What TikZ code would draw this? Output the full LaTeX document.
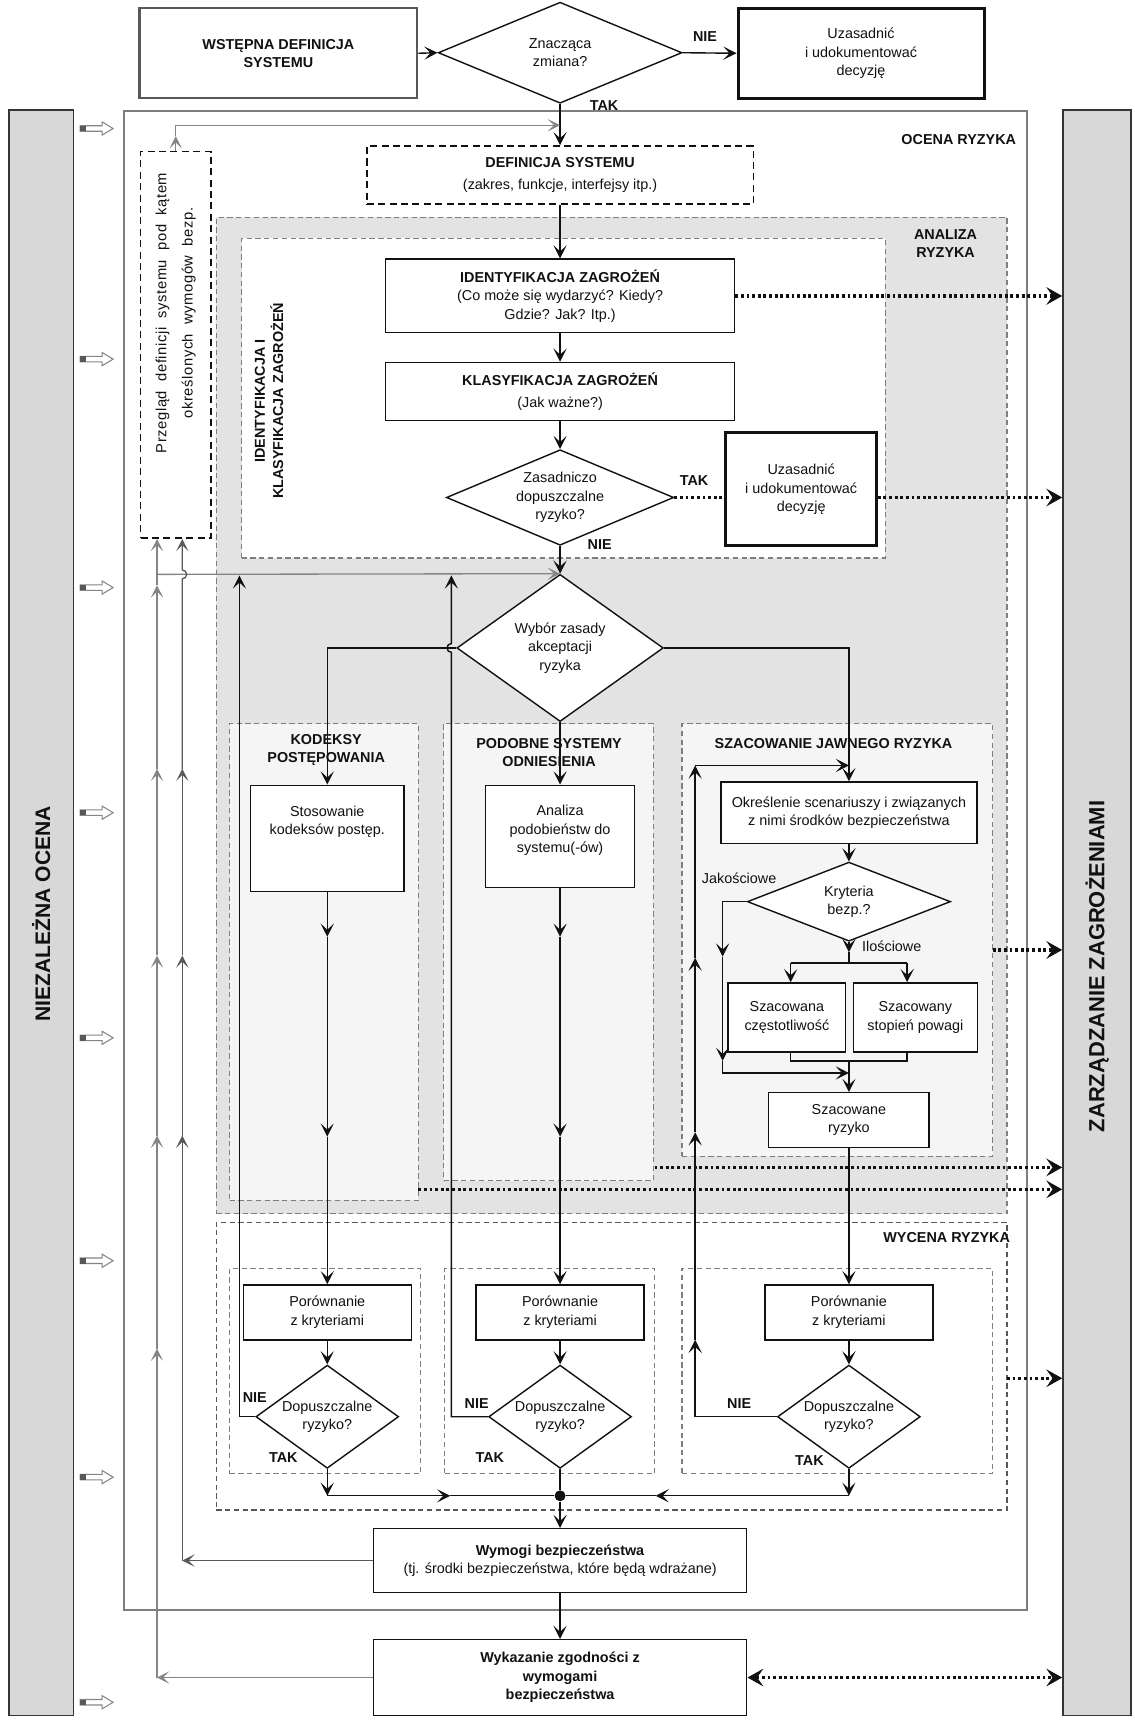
\documentclass[tikz,border=0pt]{standalone}
\usepackage{fontspec}
\setmainfont{Liberation Sans}
\newfontfamily\rozstrzelony{Liberation Sans}[LetterSpace=4,WordSpace=2]
\usepackage{tikz}
\usetikzlibrary{arrows.meta,calc,positioning,shapes.geometric}
\definecolor{tusz}{HTML}{111111}
\definecolor{szary}{HTML}{858585}
\definecolor{ramka}{HTML}{7E7E7E}
\definecolor{tlo}{HTML}{E3E3E3}
\definecolor{tlojasne}{HTML}{F5F5F5}
\definecolor{pasek}{HTML}{D8D8D8}
\tikzset{
  wym/.style 2 args={minimum width=#1*0.022cm,minimum height=#2*0.022cm},
  tekst/.style={font=\fontsize{8.2}{10.5}\selectfont,align=center,text=tusz},
  blok/.style={tekst,draw=tusz,fill=white,line width=0.8pt,inner sep=0pt},
  blokgr/.style={blok,line width=1.7pt},
  blokprz/.style={blok,dash pattern=on 4pt off 2.5pt,line width=0.9pt},
  romb/.style={tekst,diamond,draw=tusz,fill=white,line width=0.8pt,inner sep=0pt},
  obszar/.style={draw=ramka,dash pattern=on 3pt off 2pt,line width=0.7pt,inner sep=0pt},
  etykieta/.style={tekst,font=\fontsize{8.2}{10.5}\selectfont\bfseries,inner sep=1pt},
  napis/.style={tekst,inner sep=1pt},
  pasekboczny/.style={draw=tusz!85,fill=pasek,line width=1pt,inner sep=0pt},
  polaczenie/.style={draw=tusz,line width=0.8pt},
  strzalka/.style={polaczenie,-{Stealth[length=7.5pt,width=7.5pt,inset=3.5pt]}},
  szara/.style={draw=szary,line width=0.75pt,-{Stealth[length=7pt,width=7pt,inset=3.5pt]}},
  ciemna/.style={szara,draw=tusz!70},
  kropki/.style={draw=tusz,line width=1.8pt,dash pattern=on 1.6pt off 1.6pt},
  kropkistr/.style={kropki,-{Stealth[length=9pt,width=10pt,inset=3.5pt]}},
  kropkidwa/.style={kropki,{Stealth[length=9pt,width=10pt,inset=3.5pt]}-{Stealth[length=9pt,width=10pt,inset=3.5pt]}},
}
\begin{document}
\begin{tikzpicture}[x=0.022cm,y=-0.022cm]
\useasboundingbox (0,0) rectangle (1033,1568);
% paski boczne
\node[pasekboczny,wym={59}{1462}] (ocenaniez) at (37.5,831) {};
\node[pasekboczny,wym={62}{1462}] (zarzadzanie) at (999,831) {};
\node[etykieta,rotate=90,font=\fontsize{12}{14}\selectfont\bfseries] (opisniez) at (37.5,832) {NIEZALEŻNA OCENA};
\node[etykieta,rotate=90,font=\fontsize{12.5}{14}\selectfont\bfseries] (opiszarz) at (999,880) {ZARZĄDZANIE ZAGROŻENIAMI};
\foreach \yy in {117,327,535,740,945,1148,1345,1550}{
  \draw[draw=szary,fill=white,line width=0.6pt] (73,\yy-2.5) -- (93,\yy-2.5) -- (93,\yy-6) -- (103,\yy) -- (93,\yy+6) -- (93,\yy+2.5) -- (73,\yy+2.5) -- cycle;
  \fill[tusz!70] (73,\yy-2.5) rectangle (78,\yy+2.5);
}
% obszary
\node[draw=ramka,line width=0.8pt,inner sep=0pt,wym={822}{1365}] (ocena) at (524,783.5) {};
\node[obszar,fill=tlo,wym={720}{907}] (analiza) at (557,651.5) {};
\node[obszar,fill=white,wym={586}{291}] (identklas) at (513,362.5) {};
\node[obszar,fill=tlojasne,wym={172}{434}] (kodeksy) at (295,876) {};
\node[obszar,fill=tlojasne,wym={191}{416}] (podobne) at (499.5,867) {};
\node[obszar,fill=tlojasne,wym={283}{394}] (szac) at (762.5,856) {};
\node[obszar,fill=white,draw=tusz!70,wym={720}{262}] (wycena) at (557,1244) {};
\node[obszar,wym={174}{187}] (wyc1) at (296,1248.5) {};
\node[obszar,wym={191}{187}] (wyc2) at (500.5,1248.5) {};
\node[obszar,wym={283}{187}] (wyc3) at (762.5,1248.5) {};
\node[etykieta] (opisocena) at (873,127) {OCENA RYZYKA};
\node[etykieta] (opisanaliza) at (861,222) {ANALIZA\\RYZYKA};
\node[etykieta,rotate=90] (opisident) at (245,365) {IDENTYFIKACJA I\\KLASYFIKACJA ZAGROŻEŃ};
\node[etykieta] (opiskodeksy) at (297,683) {KODEKSY\\POSTĘPOWANIA};
\node[etykieta] (opispodobne) at (500,685) {PODOBNE SYSTEMY\\ODNIESIENIA};
\node[etykieta] (opisszac) at (759,677) {SZACOWANIE JAWNEGO RYZYKA};
\node[etykieta] (opiswycena) at (862,1127) {WYCENA RYZYKA};
% gora
\node[blok,draw=tusz!70,line width=1.2pt,wym={253}{82},font=\fontsize{8.2}{10.5}\selectfont\bfseries] (wstepna) at (253.5,48.5) {WSTĘPNA DEFINICJA\\SYSTEMU};
\node[romb,aspect=2.44,wym={222}{92}] (znaczaca) at (510,48) {Znacząca\\zmiana?};
\node[blokgr,wym={224}{82}] (uzasad1) at (784,48.5) {Uzasadnić\\i udokumentować\\decyzję};
\node[etykieta] (nie0) at (642,33) {NIE};
\node[etykieta] (tak0) at (550,96) {TAK};
\node[blokprz,wym={352}{53}] (definicja) at (510,159.5) {\textbf{DEFINICJA SYSTEMU}\\[2pt](zakres, funkcje, interfejsy itp.)};
\node[blokprz,wym={64}{352}] (przeglad) at (160,314) {};
\node[napis,rotate=90,font=\fontsize{8.4}{15}\rozstrzelony] (przegladtxt) at (160,285) {Przegląd definicji systemu pod kątem\\określonych wymogów bezp.};
% identyfikacja
\node[blok,wym={318}{67}] (identyf) at (510,269.5) {\textbf{IDENTYFIKACJA ZAGROŻEŃ}\\(Co może się wydarzyć? Kiedy?\\Gdzie? Jak? Itp.)};
\node[blok,wym={318}{53}] (klasyf) at (510,356.5) {\textbf{KLASYFIKACJA ZAGROŻEŃ}\\[2pt](Jak ważne?)};
\node[romb,aspect=2.38,wym={207}{87}] (zasad) at (510,453) {Zasadniczo\\dopuszczalne\\ryzyko?};
\node[blokgr,wym={137}{103}] (uzasad2) at (729.5,445.5) {Uzasadnić\\i udokumentować\\decyzję};
\node[etykieta] (tak1) at (632,438) {TAK};
\node[etykieta] (nie1) at (546,496) {NIE};
% wybor zasady
\node[romb,aspect=1.4,wym={188}{134}] (wybor) at (510,590) {Wybór zasady\\akceptacji\\ryzyka};
\node[blok,wym={140}{97}] (stosowanie) at (298,763.5) {Stosowanie\\kodeksów postęp.\\[10pt]\mbox{}};
\node[blok,wym={136}{93}] (analogia) at (510,761.5) {Analiza\\podobieństw do\\systemu(-ów)\\[-2pt]\mbox{}};
\node[blok,wym={233}{56}] (okreslenie) at (773,740) {Określenie scenariuszy i związanych\\z nimi środków bezpieczeństwa};
\node[romb,aspect=2.57,wym={185}{72}] (kryteria) at (773,821) {Kryteria\\bezp.?};
\node[napis] (jakosc) at (673,800) {Jakościowe};
\node[napis] (ilosc) at (812,862) {Ilościowe};
\node[blok,wym={107}{63}] (czestotl) at (716.5,926.5) {Szacowana\\częstotliwość};
\node[blok,wym={113}{63}] (powaga) at (833.5,926.5) {Szacowany\\stopień powagi};
\node[blok,wym={146}{50}] (szacryz) at (773,1020) {Szacowane\\ryzyko};
% wycena
\node[blok,wym={153}{50}] (por1) at (298,1195) {Porównanie\\z kryteriami};
\node[blok,wym={153}{50}] (por2) at (510,1195) {Porównanie\\z kryteriami};
\node[blok,wym={153}{50}] (por3) at (773,1195) {Porównanie\\z kryteriami};
\node[romb,aspect=1.38,wym={130}{94}] (dop1) at (298,1290) {Dopuszczalne\\ryzyko?};
\node[romb,aspect=1.38,wym={130}{94}] (dop2) at (510,1290) {Dopuszczalne\\ryzyko?};
\node[romb,aspect=1.38,wym={130}{94}] (dop3) at (773,1290) {Dopuszczalne\\ryzyko?};
\node[etykieta] (nie2) at (232,1273) {NIE};
\node[etykieta] (nie3) at (434,1278) {NIE};
\node[etykieta] (nie4) at (673,1278) {NIE};
\node[etykieta] (tak2) at (258,1327) {TAK};
\node[etykieta] (tak3) at (446,1327) {TAK};
\node[etykieta] (tak4) at (737,1330) {TAK};
\node[circle,fill=tusz,inner sep=0pt,minimum size=10*0.022cm] (wezel) at (510,1362) {};
\node[blok,wym={340}{58}] (wymogi) at (510,1421) {\textbf{Wymogi bezpieczeństwa}\\(tj. środki bezpieczeństwa, które będą wdrażane)};
\node[blok,wym={340}{69},font=\fontsize{8.2}{10.5}\selectfont\bfseries] (wykazanie) at (510,1527.5) {Wykazanie zgodności z\\wymogami\\bezpieczeństwa};
% polaczenia gorne
\draw[strzalka] (wstepna.east) -- (znaczaca.west);
\draw[strzalka] (znaczaca.east) -- (uzasad1.west);
\draw[strzalka] (znaczaca.south) -- (definicja.north);
\coordinate (petlaA) at (160,124);
\coordinate (petla) at (160,114);
\draw[szara] (przeglad.north) -- (petlaA);
\draw[szara] (petlaA) -- (petla) -- (petla -| znaczaca.south);
\draw[strzalka] (definicja.south) -- (identyf.north);
\draw[strzalka] (identyf.south) -- (klasyf.north);
\draw[strzalka] (klasyf.south) -- (zasad.north);
\draw[kropki] (zasad.east) -- (zasad.east -| uzasad2.west);
\draw[kropkistr] (uzasad2.east |- zasad.east) -- (zasad.east -| zarzadzanie.west);
\draw[kropkistr] (identyf.east) -- (identyf.east -| zarzadzanie.west);
\draw[strzalka] (zasad.south) -- (wybor.north);
% galezie
\draw[strzalka] (wybor.west) -| (stosowanie.north);
\draw[strzalka] (wybor.east) -| (okreslenie.north);
\draw[strzalka] (wybor.south) -- (analogia.north);
\coordinate (k1a) at (298,853);
\coordinate (k1b) at (298,1035);
\draw[strzalka] (stosowanie.south) -- (k1a);
\draw[strzalka] (k1a) -- (k1b);
\draw[strzalka] (k1b) -- (por1.north);
\coordinate (k2a) at (510,853);
\coordinate (k2b) at (510,1035);
\draw[strzalka] (analogia.south) -- (k2a);
\draw[strzalka] (k2a) -- (k2b);
\draw[strzalka] (k2b) -- (por2.north);
\draw[strzalka] (szacryz.south) -- (por3.north);
% szacowanie
\draw[strzalka] (okreslenie.south) -- (kryteria.north);
\coordinate (jakA) at (658,871);
\coordinate (jakB) at (658,966);
\coordinate (jakC) at (658,977);
\coordinate (zbiorS) at (773,977);
\draw[strzalka] (kryteria.west) -| (jakA);
\draw[strzalka] (jakA) -- (jakB);
\draw[strzalka] (jakB) -- (jakC) -- (zbiorS);
\coordinate (ilA) at (773,867);
\coordinate (ilB) at (773,877);
\coordinate (ilL) at (720,877);
\coordinate (ilP) at (826,877);
\draw[strzalka] (kryteria.south) -- (ilA);
\draw[polaczenie] (ilA) -- (ilB);
\draw[polaczenie] (ilL) -- (ilP);
\draw[strzalka] (ilL) -- (ilL |- czestotl.north);
\draw[strzalka] (ilP) -- (ilP |- powaga.north);
\coordinate (dolL) at (720,966);
\coordinate (dolP) at (826,966);
\coordinate (dolS) at (773,966);
\draw[polaczenie] (dolL |- czestotl.south) -- (dolL) -- (dolP) -- (dolP |- powaga.south);
\draw[strzalka] (dolS) -- (szacryz.north);
% petle NIE
\coordinate (n1) at (218,524);
\draw[strzalka] (dop1.west) -| (n1);
\coordinate (n2dol) at (411,594);
\coordinate (n2) at (411,524);
\draw[strzalka] (dop2.west) -| (n2dol) arc[start angle=90,end angle=270,radius=4] -- (n2);
\coordinate (n3a) at (633,1220);
\coordinate (n3b) at (633,1031);
\coordinate (n3c) at (633,872);
\coordinate (n3d) at (633,697);
\coordinate (n3e) at (773,697);
\draw[strzalka] (dop3.west) -| (n3a);
\draw[strzalka] (n3a) -- (n3b);
\draw[strzalka] (n3b) -- (n3c);
\draw[strzalka] (n3c) -- (n3d);
\draw[strzalka] (n3d) -- (n3e);
% zbieranie
\draw[strzalka] (por1.south) -- (dop1.north);
\draw[strzalka] (por2.south) -- (dop2.north);
\draw[strzalka] (por3.south) -- (dop3.north);
\coordinate (zb1) at (298,1362);
\coordinate (zb1s) at (410,1362);
\coordinate (zb3) at (773,1362);
\coordinate (zb3s) at (597,1362);
\draw[strzalka] (dop1.south) -- (zb1);
\draw[strzalka] (zb1) -- (zb1s);
\draw[polaczenie] (zb1s) -- (wezel);
\draw[strzalka] (dop3.south) -- (zb3);
\draw[strzalka] (zb3) -- (zb3s);
\draw[polaczenie] (zb3s) -- (wezel);
\draw[polaczenie] (dop2.south) -- (wezel);
\draw[strzalka] (wezel) -- (wymogi.north);
\draw[strzalka] (wymogi.south) -- (wykazanie.north);
\draw[kropkidwa] (wykazanie.east) -- (wykazanie.east -| zarzadzanie.west);
% linie szare po lewej
\coordinate (zew) at (143,1527.5);
\coordinate (zA) at (143,1228);
\coordinate (zB) at (143,1034);
\coordinate (zC) at (143,870);
\coordinate (zD) at (143,700);
\coordinate (zE) at (143,533);
\coordinate (poziom) at (143,523);
\draw[szara] (wykazanie.west) -- (zew);
\draw[szara] (zew) -- (zA);
\draw[szara] (zA) -- (zB);
\draw[szara] (zB) -- (zC);
\draw[szara] (zC) -- (zD);
\draw[szara] (zD) -- (zE);
\draw[szara] (zE) -- (zew |- przeglad.south);
\draw[szara] (poziom) -- (wybor.north);
\coordinate (wew) at (166,1421);
\coordinate (wA) at (166,1034);
\coordinate (wB) at (166,870);
\coordinate (wC) at (166,700);
\coordinate (wD) at (166,527);
\draw[ciemna] (wymogi.west) -- (wew);
\draw[ciemna] (wew) -- (wA);
\draw[ciemna] (wA) -- (wB);
\draw[ciemna] (wB) -- (wC);
\draw[ciemna] (wC) -- (wD) arc[start angle=90,end angle=-90,radius=4] -- (wew |- przeglad.south);
% kropkowane do zarzadzania
\coordinate (kr1) at (904,865);
\coordinate (kr2) at (596,1063);
\coordinate (kr3) at (381,1083);
\coordinate (kr4) at (917,1255);
\draw[kropkistr] (kr1) -- (kr1 -| zarzadzanie.west);
\draw[kropkistr] (kr2) -- (kr2 -| zarzadzanie.west);
\draw[kropkistr] (kr3) -- (kr3 -| zarzadzanie.west);
\draw[kropkistr] (kr4) -- (kr4 -| zarzadzanie.west);
\end{tikzpicture}
\end{document}
